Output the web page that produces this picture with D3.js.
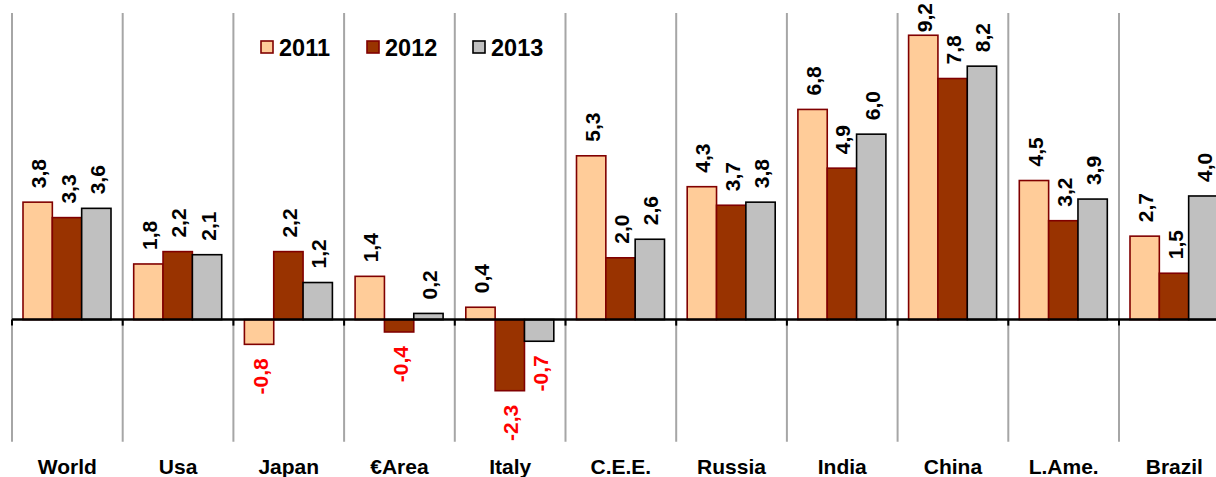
<!DOCTYPE html>
<html>
<head>
<meta charset="utf-8">
<script src="https://cdn.jsdelivr.net/npm/d3@7"></script>
<style>
  html, body { margin: 0; padding: 0; background: #fff; }
  svg { display: block; font-family: Arial, "Liberation Sans", sans-serif; }
</style>
</head>
<body>
<svg id="chart" width="1216" height="477"></svg>
<script>
const categories = ["World", "Usa", "Japan", "€Area", "Italy", "C.E.E.", "Russia", "India", "China", "L.Ame.", "Brazil"];
const seriesNames = ["2011", "2012", "2013"];
const values2011 = [3.8, 1.8, -0.8, 1.4, 0.4, 5.3, 4.3, 6.8, 9.2, 4.5, 2.7];
const values2012 = [3.3, 2.2, 2.2, -0.4, -2.3, 2.0, 3.7, 4.9, 7.8, 3.2, 1.5];
const values2013 = [3.6, 2.1, 1.2, 0.2, -0.7, 2.6, 3.8, 6.0, 8.2, 3.9, 4.0];

const seriesValues = [values2011, values2012, values2013];
const fills = ["#FFCC99", "#993300", "#C0C0C0"];
const strokes = ["#800000", "#800000", "#000000"];

const svg = d3.select("#chart");

const plotLeft = 12, step = 110.7;
const x = d3.scaleBand().domain(categories).range([plotLeft, plotLeft + step * categories.length]).padding(0);
const x1 = d3.scaleBand().domain(seriesNames).range([11, 99]).padding(0);
const y = d3.scaleLinear().domain([-3.95, 9.92]).range([441.7, 13]);

// vertical gridlines (category separators)
const bounds = categories.map(c => x(c)).concat([x(categories[categories.length - 1]) + x.bandwidth()]);
svg.append("g").selectAll("line").data(bounds).join("line")
  .attr("x1", d => d).attr("x2", d => d)
  .attr("y1", y(9.92)).attr("y2", y(-3.95))
  .attr("stroke", "#A6A6A6").attr("stroke-width", 2);

// bars
const data = [];
categories.forEach((c, i) => seriesNames.forEach((s, j) => data.push({c, s, j, v: seriesValues[j][i]})));

svg.append("g").selectAll("rect").data(data).join("rect")
  .attr("x", d => x(d.c) + x1(d.s))
  .attr("width", x1.bandwidth())
  .attr("y", d => y(Math.max(0, d.v)))
  .attr("height", d => Math.abs(y(d.v) - y(0)))
  .attr("fill", d => fills[d.j])
  .attr("stroke", d => strokes[d.j])
  .attr("stroke-width", 1.6);

// zero axis
svg.append("line")
  .attr("x1", plotLeft).attr("x2", 1216)
  .attr("y1", y(0)).attr("y2", y(0))
  .attr("stroke", "#000").attr("stroke-width", 2.5);
svg.append("g").selectAll("line").data(bounds).join("line")
  .attr("x1", d => d).attr("x2", d => d)
  .attr("y1", y(0)).attr("y2", y(0) + 6)
  .attr("stroke", "#000").attr("stroke-width", 2);

// value labels
const fmt = v => d3.format(".1f")(v).replace(".", ",").replace("−", "-");
const labels = svg.append("g").selectAll("text").data(data).join("text")
  .attr("dy", "0.36em")
  .attr("text-anchor", d => d.v >= 0 ? "start" : "end")
  .attr("font-size", 21)
  .attr("font-weight", "bold")
  .attr("fill", d => d.v < 0 ? "#FF0000" : "#000")
  .text(d => fmt(d.v));
labels.attr("transform", function(d) {
  const len = this.getComputedTextLength();
  const cx = x(d.c) + x1(d.s) + x1.bandwidth() / 2 + 1;
  let cy = d.v >= 0 ? y(d.v) - 14 : y(d.v) + 14;
  if (d.v >= 0 && cy - len < 3) cy = 3 + len;
  return `translate(${cx},${cy}) rotate(-90)`;
});

// category labels
svg.append("g").selectAll("text").data(categories).join("text")
  .attr("x", d => x(d) + x.bandwidth() / 2)
  .attr("y", 474)
  .attr("text-anchor", "middle")
  .attr("font-size", 21)
  .attr("font-weight", "bold")
  .attr("fill", "#000")
  .text(d => d);

// legend
const legend = svg.append("g").selectAll("g").data(seriesNames).join("g")
  .attr("transform", (d, i) => `translate(${261 + i * 106},0)`);
legend.append("rect")
  .attr("x", 0).attr("y", 41).attr("width", 12).attr("height", 12)
  .attr("fill", (d, i) => fills[i])
  .attr("stroke", (d, i) => strokes[i])
  .attr("stroke-width", 1.6);
legend.append("text")
  .attr("x", 18).attr("y", 56)
  .attr("font-size", 23.5)
  .attr("font-weight", "bold")
  .attr("fill", "#000")
  .text(d => d);
</script>
</body>
</html>
